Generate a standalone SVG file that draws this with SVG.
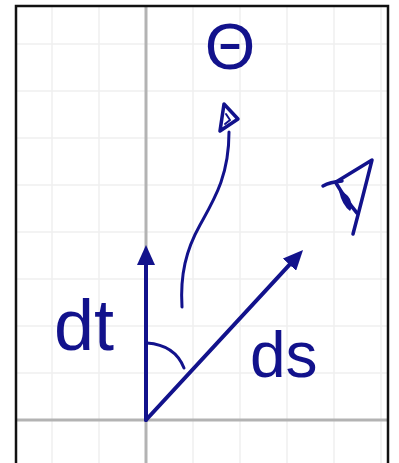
<svg xmlns="http://www.w3.org/2000/svg" width="399" height="463" viewBox="0 0 399 463">
  <style>
    .grid { stroke: #efefef; stroke-width: 1.5; }
    .axis { stroke: #b3b3b3; stroke-width: 3; }
    .frame { stroke: #111111; stroke-width: 2.5; fill: none; }
    .ink { stroke: #12128c; fill: none; stroke-linecap: round; stroke-linejoin: round; }
    .vec { stroke-width: 4; }
    .thin { stroke-width: 3; }
    .lbl { fill: #12128c; font-family: "Liberation Sans", Arial, sans-serif; }
  </style>
  <defs>
    <marker id="head" viewBox="0 0 20 18" refX="8" refY="9" markerWidth="20" markerHeight="18" markerUnits="userSpaceOnUse" orient="auto">
      <path d="M0,0 L20,9 L0,18 z" fill="#12128c"/>
    </marker>
  </defs>
  <rect width="399" height="463" fill="#ffffff"/>
  <g id="grid">
    <line class="grid" x1="52" y1="6" x2="52" y2="463"/>
    <line class="grid" x1="99" y1="6" x2="99" y2="463"/>
    <line class="grid" x1="193" y1="6" x2="193" y2="463"/>
    <line class="grid" x1="240" y1="6" x2="240" y2="463"/>
    <line class="grid" x1="287" y1="6" x2="287" y2="463"/>
    <line class="grid" x1="334" y1="6" x2="334" y2="463"/>
    <line class="grid" x1="381" y1="6" x2="381" y2="463"/>
    <line class="grid" x1="16" y1="44" x2="388" y2="44"/>
    <line class="grid" x1="16" y1="91" x2="388" y2="91"/>
    <line class="grid" x1="16" y1="138" x2="388" y2="138"/>
    <line class="grid" x1="16" y1="185" x2="388" y2="185"/>
    <line class="grid" x1="16" y1="232" x2="388" y2="232"/>
    <line class="grid" x1="16" y1="279" x2="388" y2="279"/>
    <line class="grid" x1="16" y1="326" x2="388" y2="326"/>
    <line class="grid" x1="16" y1="373" x2="388" y2="373"/>
  </g>
  <g id="axes">
    <line class="axis" x1="146" y1="6" x2="146" y2="463"/>
    <line class="axis" x1="16" y1="420" x2="388" y2="420"/>
  </g>
  <g id="frame">
    <path class="frame" d="M16,463 L16,6 L388,6 L388,463"/>
  </g>
  <g id="connectors">
    <line class="ink vec" x1="146" y1="420" x2="146" y2="257" marker-end="url(#head)"/>
    <line class="ink vec" x1="146" y1="420" x2="294.9" y2="258.8" marker-end="url(#head)"/>
    <path class="ink thin" d="M147,343 Q175,345 184,368"/>
    <path class="ink thin" d="M182,307 C180,275 186,250 200,225 C215,198 229,175 229,132"/>
  </g>
  <g id="curve-head">
    <path class="ink" stroke-width="3.5" d="M224,104 L238,119 L220,131 Z"/>
    <path class="ink" stroke-width="2" d="M226,114 L230,120 L225,124"/>
  </g>
  <g id="observer">
    <path class="ink" stroke-width="3.5" d="M323,186 Q330,182 342,181"/>
    <path class="ink" stroke-width="3.5" d="M336,182 L372,160 Q362,200 353,234"/>
    <path class="ink" stroke-width="3.5" d="M336,183 Q346,200 357,213"/>
    <path d="M339,191 Q347,193 350,199 Q353,207 350,211 Q342,205 339,191 Z" fill="#12128c"/>
  </g>
  <g id="label-theta">
    <text class="lbl" x="230" y="69" font-size="65" text-anchor="middle">Θ</text>
  </g>
  <g id="label-dt">
    <text class="lbl" x="54" y="350" font-size="72">dt</text>
  </g>
  <g id="label-ds">
    <text class="lbl" x="250" y="377" font-size="64">ds</text>
  </g>
</svg>
